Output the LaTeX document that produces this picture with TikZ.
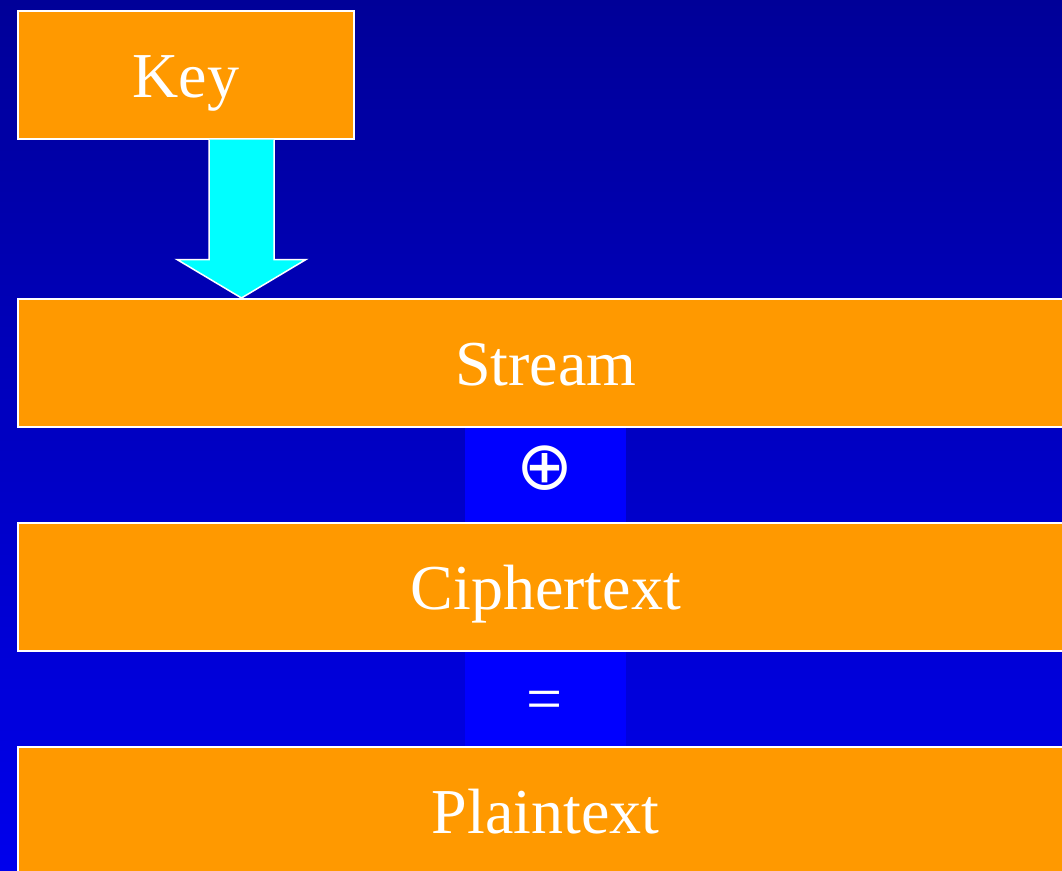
\documentclass[tikz,border=0pt]{standalone}
\usepackage{fontspec}
\setmainfont{Liberation Serif}
\newfontfamily\symfont{DejaVu Sans}
\usetikzlibrary{calc}
\definecolor{bgtop}{RGB}{0,0,152}
\definecolor{bgbot}{RGB}{0,0,236}
\definecolor{boxorange}{RGB}{255,153,0}
\definecolor{stripblue}{RGB}{0,0,255}
\definecolor{arrowcyan}{RGB}{0,255,255}
\tikzset{
  box/.style={draw=white, line width=1.5pt, fill=boxorange, text=white,
    font=\fontsize{64}{70}\selectfont, text height=45pt, text depth=-3pt,
    inner sep=0pt, minimum height=128pt, anchor=north west},
  strip/.style={fill=stripblue, draw=none},
  sym/.style={text=white, inner sep=0pt},
  blockarrow/.style={draw=white, line width=1.5pt, fill=arrowcyan, line join=miter}
}
\begin{document}
\begin{tikzpicture}[x=1pt,y=-1pt]
\useasboundingbox (0,0) rectangle (1062,870);
\clip (0,0) rectangle (1062,870);
\shade[top color=bgtop, bottom color=bgbot] (0,0) rectangle (1062,870);
% strips between boxes
\fill[strip] (465,426) rectangle (626,522);
\fill[strip] (465,650) rectangle (626,746);
% boxes
\node[box, minimum width=336pt] (key) at (17,10) {Key};
\node[box, minimum width=1056pt] (stream) at (17,298) {Stream};
\node[box, minimum width=1056pt] (cipher) at (17,522) {Ciphertext};
\node[box, minimum width=1056pt] (plain) at (17,746) {Plaintext};
% symbols
\node[sym, font=\symfont\fontsize{68}{72}\selectfont] (xor) at (545,468) {⊕};
\node[sym, font=\fontsize{64}{70}\selectfont] (eq) at (545,706) {=};
% block arrow from key to stream
\coordinate (tip) at ($(stream.north west)+(224.5,0)$);
\draw[blockarrow] ($(key.south west)+(192,0)$) -- ($(key.south west)+(192,120)$)
  -- ($(key.south west)+(160,120)$) -- (tip)
  -- ($(key.south west)+(289,120)$) -- ($(key.south west)+(257,120)$)
  -- ($(key.south west)+(257,0)$);
\end{tikzpicture}
\end{document}
